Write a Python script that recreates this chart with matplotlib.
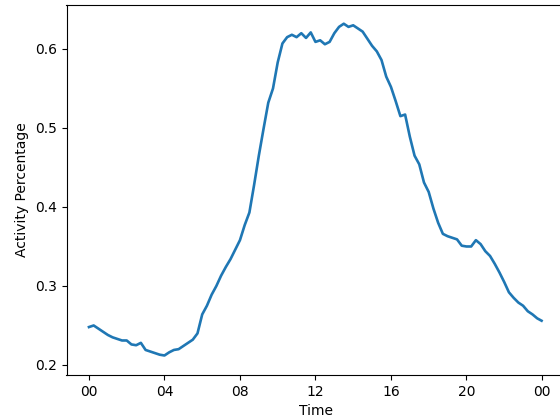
import matplotlib
matplotlib.use("Agg")
import matplotlib.pyplot as plt

hours = [0.00, 0.25, 0.50, 0.75, 1.00, 1.25, 1.50, 1.75, 2.00, 2.25, 2.50, 2.75,
         3.00, 3.25, 3.50, 3.75, 4.00, 4.25, 4.50, 4.75, 5.00, 5.25, 5.50, 5.75,
         6.00, 6.25, 6.50, 6.75, 7.00, 7.25, 7.50, 7.75, 8.00, 8.25, 8.50, 8.75,
         9.00, 9.25, 9.50, 9.75, 10.00, 10.25, 10.50, 10.75, 11.00, 11.25, 11.50, 11.75,
         12.00, 12.25, 12.50, 12.75, 13.00, 13.25, 13.50, 13.75, 14.00, 14.25, 14.50, 14.75,
         15.00, 15.25, 15.50, 15.75, 16.00, 16.25, 16.50, 16.75, 17.00, 17.25, 17.50, 17.75,
         18.00, 18.25, 18.50, 18.75, 19.00, 19.25, 19.50, 19.75, 20.00, 20.25, 20.50, 20.75,
         21.00, 21.25, 21.50, 21.75, 22.00, 22.25, 22.50, 22.75, 23.00, 23.25, 23.50, 23.75,
         23.98]
activity = [0.248, 0.250, 0.246, 0.242, 0.238, 0.235, 0.233, 0.231, 0.231, 0.226, 0.225, 0.228,
            0.219, 0.217, 0.215, 0.213, 0.212, 0.216, 0.219, 0.220, 0.224, 0.228, 0.232, 0.240,
            0.264, 0.275, 0.289, 0.300, 0.313, 0.324, 0.334, 0.346, 0.358, 0.377, 0.393, 0.428,
            0.465, 0.499, 0.532, 0.550, 0.583, 0.607, 0.615, 0.618, 0.615, 0.620, 0.614, 0.621,
            0.609, 0.611, 0.606, 0.609, 0.620, 0.628, 0.632, 0.628, 0.630, 0.626, 0.622, 0.613,
            0.604, 0.597, 0.586, 0.565, 0.552, 0.534, 0.515, 0.517, 0.489, 0.465, 0.454, 0.431,
            0.419, 0.398, 0.380, 0.366, 0.363, 0.361, 0.359, 0.351, 0.350, 0.350, 0.358, 0.353,
            0.344, 0.338, 0.328, 0.317, 0.305, 0.292, 0.285, 0.279, 0.275, 0.268, 0.264, 0.259,
            0.256]

tick_pos = [0, 4, 8, 12, 16, 20, 24]
tick_labels = ["00", "04", "08", "12", "16", "20", "00"]

fig = plt.figure(figsize=(5.6, 4.18), dpi=100)
ax = fig.add_axes([66.5 / 560, 43 / 418, (564.6 - 66.5) / 560, 370 / 418])
ax.plot(hours, activity, color="#1f77b4", linewidth=1.9)
ax.set_xlim(-1.19, 25.2)
ax.set_ylim(0.1873, 0.6557)
ax.set_xticks(tick_pos)
ax.set_xticklabels(tick_labels)
ax.set_yticks([0.2, 0.3, 0.4, 0.5, 0.6])
ax.set_xlabel("Time")
ax.set_ylabel("Activity Percentage")
fig.savefig("out.png", dpi=100)
